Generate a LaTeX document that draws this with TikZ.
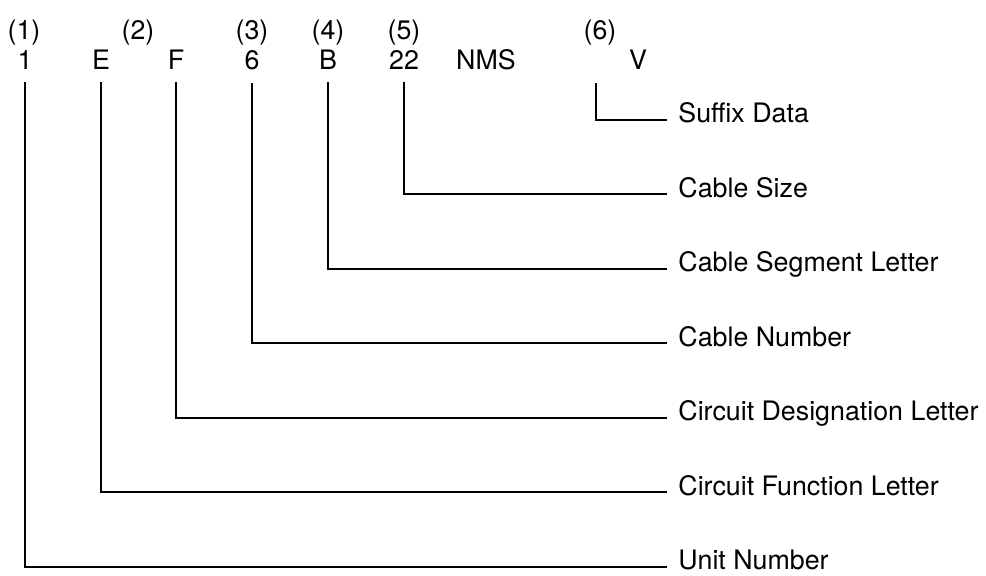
\documentclass[tikz,border=0pt]{standalone}
\usepackage{fontspec}
\setmainfont{TeX Gyre Heros}
\usetikzlibrary{positioning}

\tikzset{
  idx/.style={inner sep=0pt, anchor=base},
  code/.style={inner sep=0pt, anchor=base},
  lbl/.style={inner sep=0pt, anchor=west, text height=7pt, text depth=4pt},
  lead/.style={line width=1pt, shorten <=6pt, shorten >=5.5pt}
}

\begin{document}
\begin{tikzpicture}[x=0.5pt, y=-0.5pt, font=\fontsize{13.4}{15}\selectfont]
  \useasboundingbox (0,0) rectangle (986,576);

  % Field numbers
  \node[idx] (n1) at (24,40)  {(1)};
  \node[idx] (n2) at (138,40) {(2)};
  \node[idx] (n3) at (252,40) {(3)};
  \node[idx] (n4) at (328,40) {(4)};
  \node[idx] (n5) at (404,40) {(5)};
  \node[idx] (n6) at (600,40) {(6)};

  % Cable code
  \node[code] (unit) at (25,70)  {1};
  \node[code] (func) at (101,70) {E};
  \node[code] (desg) at (176,70) {F};
  \node[code] (cnum) at (252,70) {6};
  \node[code] (segm) at (328,70) {B};
  \node[code] (size) at (404,70) {22};
  \node[code] (nms)  at (486,70) {NMS};
  \node[code] (sfx)  at (638,70) {V};
  \coordinate (sfxtop) at (596,71);

  % Descriptions
  \node[lbl] (lsfx)  at (678,120)   {Suffix Data};
  \node[lbl] (lsize) at (678,194.5) {Cable Size};
  \node[lbl] (lsegm) at (678,269)   {Cable Segment Letter};
  \node[lbl] (lcnum) at (678,343.5) {Cable Number};
  \node[lbl] (ldesg) at (678,418)   {Circuit Designation Letter};
  \node[lbl] (lfunc) at (678,492.5) {Circuit Function Letter};
  \node[lbl] (lunit) at (678,567)   {Unit Number};

  % Leaders
  \foreach \a/\b in {sfxtop/lsfx, size/lsize, segm/lsegm, cnum/lcnum,
                     desg/ldesg, func/lfunc, unit/lunit}
    \draw[lead] (\a.south) |- (\b.west);
\end{tikzpicture}
\end{document}
